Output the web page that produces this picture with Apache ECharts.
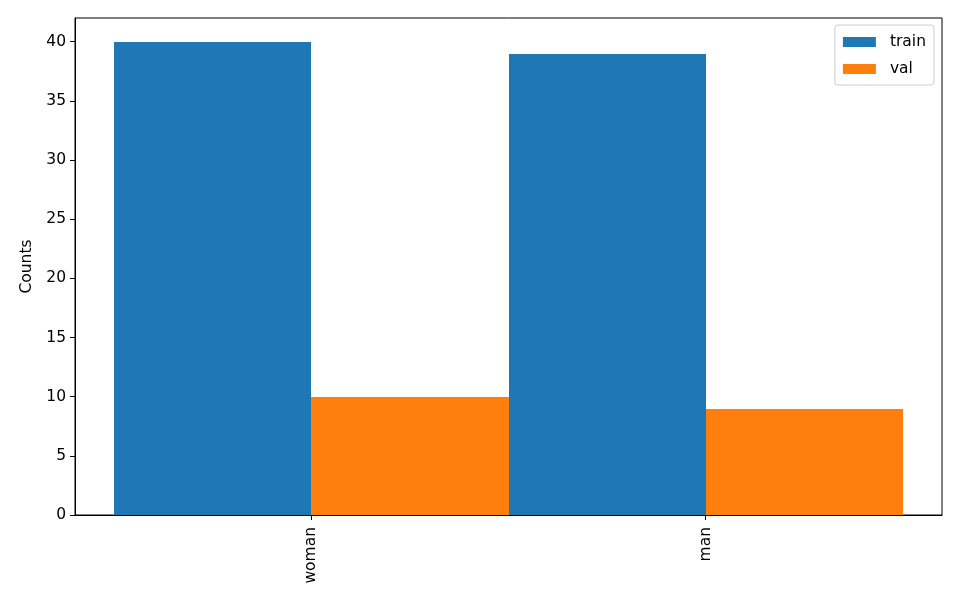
<!DOCTYPE html>
<html>
<head>
<meta charset="utf-8">
<script src="https://cdn.jsdelivr.net/npm/echarts@6/dist/echarts.min.js"></script>
<style>html,body{margin:0;padding:0;background:#fff}#c{width:960px;height:600px}</style>
</head>
<body>
<div id="c"></div>
<script>
const categories = ['woman', 'man'];
const trainValues = [40, 39];
const valValues = [10, 9];
const yTicks = [0, 5, 10, 15, 20, 25, 30, 35, 40];

const FONT = 'DejaVu Sans';
const FS = 15.5;
const chart = echarts.init(document.getElementById('c'), null, {renderer: 'canvas'});

function barSeries(name, values, color, offset) {
  return {
    type: 'custom',
    name: name,
    itemStyle: {color: color},
    data: values.map((v, i) => [i, v]),
    encode: {x: 0, y: 1},
    renderItem: function (params, api) {
      const x = api.value(0), y = api.value(1);
      const p0 = api.coord([x + offset, 0]);
      const p1 = api.coord([x + offset + 0.5, y]);
      const x0 = Math.round(p0[0]), x1 = Math.round(p1[0]);
      const y0 = Math.round(p0[1]), y1 = Math.round(p1[1]);
      return {
        type: 'rect',
        shape: {x: x0, y: y1, width: x1 - x0, height: y0 - y1},
        style: {fill: color}
      };
    }
  };
}

chart.setOption({
  animation: false,
  textStyle: {fontFamily: FONT},
  grid: {left: 75, right: 18, top: 18, bottom: 85, show: true, borderColor: '#000', borderWidth: 1, backgroundColor: 'transparent'},
  legend: {
    orient: 'vertical', right: 26, top: 25,
    padding: [9, 8, 8, 8],
    borderColor: '#cccccc', borderWidth: 1, borderRadius: 3,
    icon: 'rect', itemWidth: 33, itemHeight: 10, itemGap: 11,
    textStyle: {fontFamily: FONT, fontSize: FS, color: '#000', padding: [0, 0, 0, 9], lineHeight: 16},
    data: ['train', 'val']
  },
  xAxis: {
    type: 'value', min: -0.6, max: 1.6,
    splitLine: {show: false},
    axisLine: {show: true, onZero: false, lineStyle: {color: '#000'}},
    axisTick: {show: true, length: 5, customValues: categories.map((c, i) => i), lineStyle: {color: '#000'}},
    axisLabel: {
      customValues: categories.map((c, i) => i),
      rotate: 90, margin: 12, fontSize: FS, color: '#000', fontFamily: FONT,
      formatter: v => categories[Math.round(v)]
    }
  },
  yAxis: {
    type: 'value', min: 0, max: 42,
    name: 'Counts', nameLocation: 'middle', nameGap: 40, nameRotate: 90,
    nameTextStyle: {fontSize: FS, color: '#000', fontFamily: FONT},
    splitLine: {show: false},
    axisLine: {show: true, onZero: false, lineStyle: {color: '#000'}},
    axisTick: {show: true, length: 5, customValues: yTicks, lineStyle: {color: '#000'}},
    axisLabel: {customValues: yTicks, margin: 9, fontSize: FS, color: '#000', fontFamily: FONT}
  },
  series: [
    barSeries('train', trainValues, '#1f77b4', -0.5),
    barSeries('val', valValues, '#ff7f0e', 0)
  ]
});
</script>
</body>
</html>
